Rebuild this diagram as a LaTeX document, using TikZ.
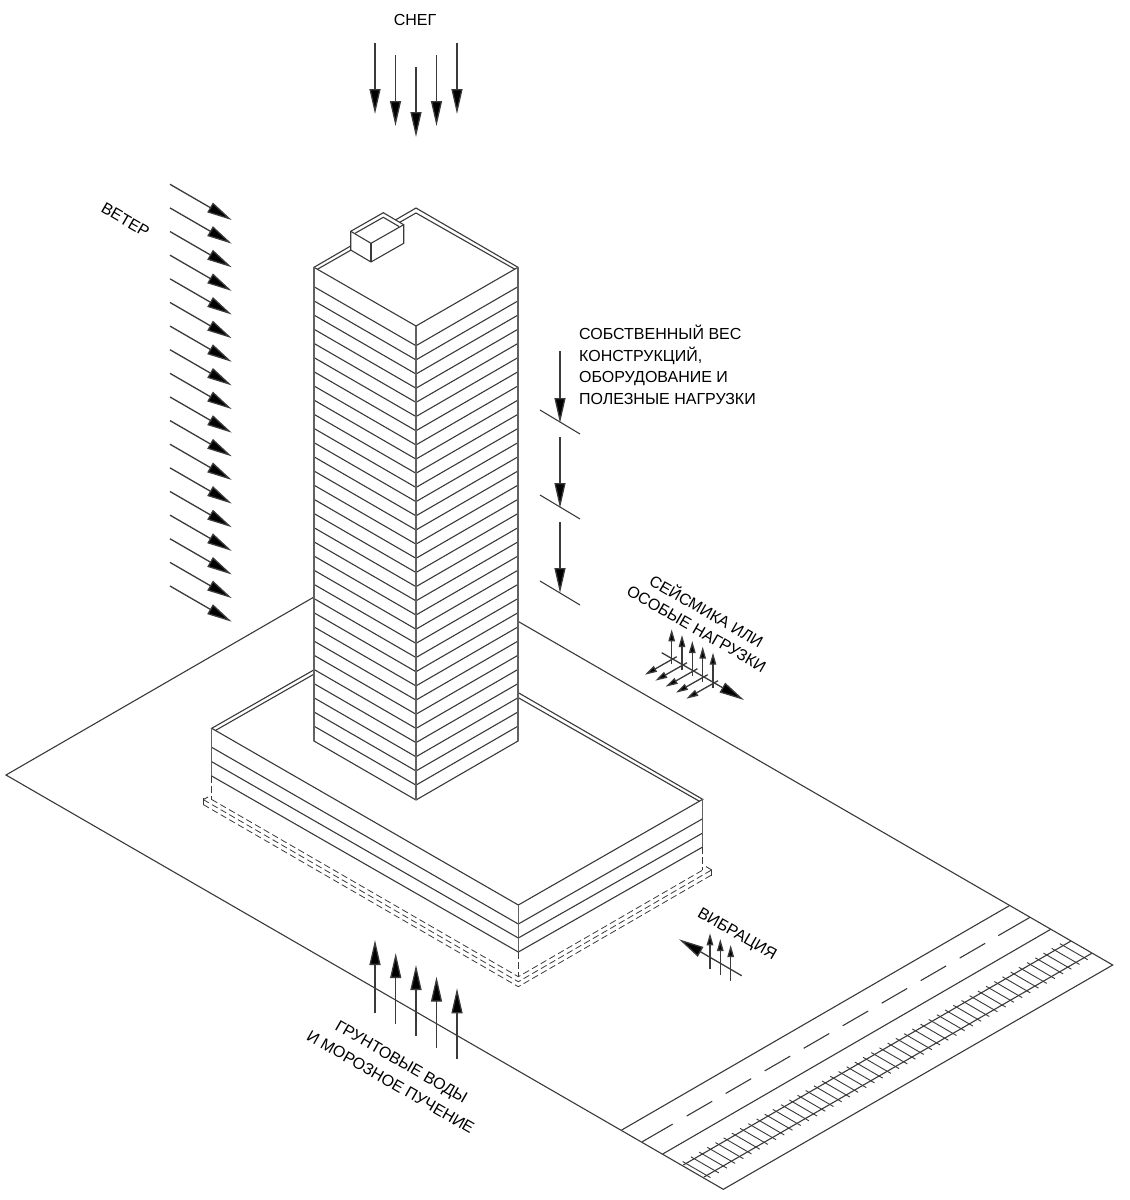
\documentclass[tikz,border=0pt]{standalone}
\usepackage{fontspec}
\setmainfont{Liberation Sans}
\usetikzlibrary{arrows.meta}
\definecolor{ink}{HTML}{3A3A3A}
\tikzset{
  edge/.style={draw=ink,line width=1.1pt,line join=miter},
  thin edge/.style={draw=ink,line width=0.9pt},
  vert/.style={draw=ink!80,line width=1.4pt},
  hidden/.style={draw=ink,line width=0.8pt,dash pattern=on 6.5pt off 3.5pt},
  bigarrow/.style={draw=ink,line width=1.3pt,-{Triangle[length=25pt,width=11pt,fill=black]}},
  smallarrow/.style={draw=ink,line width=1.3pt,-{Triangle[length=12pt,width=6.5pt,fill=black]}},
  label/.style={font=\fontsize{16pt}{21.5pt}\selectfont,text=black,inner sep=0pt},
}
\begin{document}
\begin{tikzpicture}[x=1pt,y=-1pt]
\useasboundingbox (0,0) rectangle (1130,1200);
\fill[white] (0,0) rectangle (1130,1200);
% ground plane
\coordinate (gL) at (6,775);
\coordinate (gB) at (723.3,1189.3);
\coordinate (gR) at (1112.7,965);
\coordinate (gT1) at (314,597);
\coordinate (gT2) at (518,621.3);
\draw[edge] (gT1) -- (gL) -- (gB) -- (gR) -- (gT2);
% road
\draw[edge] (621.7,1130) -- (1009.3,905.7);
\draw[edge] (662.7,1154) -- (1050.7,929.3);
\draw[edge] (642.3,1141.7) -- (672.7,1124.1);
\foreach \d in {686.7,725.7,764.7,803.7,842.7,881.7,920.7,959.7}{
  \draw[edge] (\d,{1141.7-(\d-642.3)*0.5786}) -- ({\d+25.5},{1141.7-(\d+25.5-642.3)*0.5786});
}
\draw[edge] (998.3,935.6) -- (1030,917.3);
% rails and ties
\draw[edge] (683.3,1165) -- (1071,941);
\draw[edge] (704,1177) -- (1091.7,953.3);
\foreach \i in {0,...,46}{
  \pgfmathsetmacro{\tx}{686+\i*8.2}
  \pgfmathsetmacro{\ty}{1165-(\tx-683.3)*0.5777}
  \draw[thin edge] ({\tx-3.3},{\ty-1.9}) -- ({\tx+24.5},{\ty+14.15});
}
% podium
\draw[edge] (313.7,670) -- (211.7,728.3) -- (518.3,905) -- (702.7,799.3) -- (518.3,692.7);
\draw[edge] (313.7,674.3) -- (215,730.7);
\draw[edge] (518.3,697.7) -- (699.5,801.3);
\foreach \a/\b/\c in {747.3/924/818.7, 761.7/938/833, 776/952/847}{
  \draw[edge] (211.7,\a) -- (518.3,\b) -- (702.7,\c);
}
\draw[vert] (211.7,728.3) -- (211.7,776);
\draw[vert] (518.3,905) -- (518.3,952);
\draw[vert] (702.7,799.3) -- (702.7,847);
% footing (hidden)
\draw[hidden] (211.7,776) -- (211.7,799.5);
\draw[hidden] (518.3,952) -- (518.3,976.7);
\draw[hidden] (702.7,847) -- (702.7,870);
\draw[hidden] (211.7,799.5) -- (518.3,976.7) -- (702.7,870.1);
\draw[hidden] (203.3,799.6) -- (518.3,981.7) -- (711.7,869.9);
\draw[hidden] (203.3,804.6) -- (518.3,986.7) -- (711.7,874.9);
\draw[thin edge] (203.3,798.3) -- (203.3,805);
\draw[thin edge] (711.7,869.9) -- (711.7,875.5);
\draw[thin edge] (203.3,799.6) -- (208,797);
\draw[thin edge] (711.7,869.9) -- (706,866.6);
% tower
\draw[edge,fill=white] (314,267.3) -- (416,208) -- (518,267.3) -- (518,741) -- (416,800) -- (314,741) -- cycle;
\draw[edge] (317.3,269.3) -- (416,213) -- (515,269.3);
\draw[edge] (314,267.3) -- (416,326) -- (518,267.3);
\foreach \i in {0,...,31}{
  \pgfmathsetmacro{\yy}{286.7+\i*14.175}
  \draw[edge] (314,\yy) -- (416,{\yy+59}) -- (518,\yy);
}
\draw[vert] (314,267.3) -- (314,741);
\draw[vert] (518,267.3) -- (518,741);
\draw[vert] (416,326) -- (416,800);
% rooftop box
\draw[edge,fill=white] (350.7,231.3) -- (383.3,212.7) -- (403.7,224.7) -- (403.7,243.3) -- (371,262) -- (350.7,250) -- cycle;
\draw[edge] (350.7,231.3) -- (371,243.3) -- (403.7,224.7);
\draw[edge] (371,243.3) -- (371,262);
\draw[edge] (355,233.3) -- (383.3,217.3) -- (399,226.5);
% snow
\foreach \x/\a/\b in {375/43/114, 395.5/55/126, 416/67/137, 436.5/55/126, 457/43/114}{
  \draw[bigarrow] (\x,\a) -- (\x,\b);
}
% ground water
\foreach \x/\a/\b in {375/1012.7/940, 395.7/1024/953, 416/1036/965, 436.5/1047.7/976.7, 457/1059.3/988.3}{
  \draw[bigarrow] (\x,\a) -- (\x,\b);
}
% wind
\foreach \i in {0,...,17}{
  \pgfmathsetmacro{\ya}{184.3+\i*23.63}
  \draw[bigarrow] (170,\ya) -- (231.7,{\ya+35.7});
}
% self weight
\foreach \a/\b in {351/423, 437/508, 522/593}{
  \draw[bigarrow] (560,\a) -- (560,\b);
}
\foreach \y in {410,495,581}{
  \draw[edge] (540,\y) -- (580,{\y+24});
}
% seismic
\draw[bigarrow] (661.7,652.7) -- (744,700);
\foreach \x/\a/\b in {671.7/664/629.3, 682/670/635, 692.3/676/641, 702.7/682/646.7, 713/688/652.7}{
  \draw[smallarrow] (\x,\a) -- (\x,\b);
}
\foreach \x/\y in {645/674.7, 655.3/680.7, 665.7/686.7, 676/692.7, 686.3/698.7}{
  \draw[smallarrow] ({\x+31.7},{\y-18}) -- (\x,\y);
}
% vibration
\draw[bigarrow] (741.7,975.7) -- (679,939.3);
\foreach \x/\a/\b in {710/969.3/933.3, 720.3/975/939, 730.7/980.7/945}{
  \draw[smallarrow] (\x,\a) -- (\x,\b);
}
% labels
\node[label] (snow) at (415,19.5) {СНЕГ};
\node[label,rotate=-30] (wind) at (125.5,220) {ВЕТЕР};
\node[label,anchor=north west,align=left] (weight) at (579,325) {СОБСТВЕННЫЙ ВЕС\\КОНСТРУКЦИЙ,\\ОБОРУДОВАНИЕ И\\ПОЛЕЗНЫЕ НАГРУЗКИ};
\node[label,rotate=-30] (seis1) at (707,610) {СЕЙСМИКА ИЛИ};
\node[label,rotate=-30] (seis2) at (696.5,629) {ОСОБЫЕ НАГРУЗКИ};
\node[label,rotate=-30] (vib) at (736.7,935) {ВИБРАЦИЯ};
\node[label,rotate=-30] (gw1) at (400.7,1063) {ГРУНТОВЫЕ ВОДЫ};
\node[label,rotate=-30] (gw2) at (390.7,1082) {И МОРОЗНОЕ ПУЧЕНИЕ};
\end{tikzpicture}
\end{document}
